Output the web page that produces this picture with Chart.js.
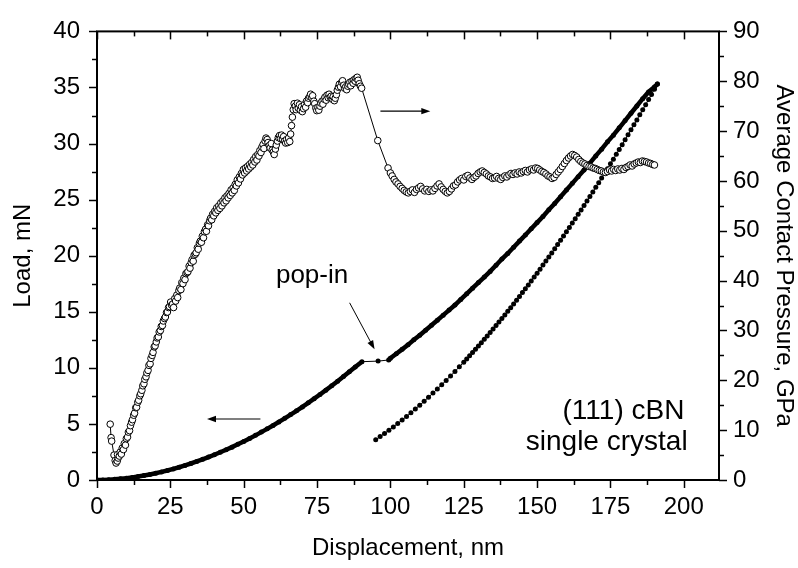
<!DOCTYPE html>
<html><head><meta charset="utf-8">
<script src="https://cdn.jsdelivr.net/npm/chart.js@4.4.1/dist/chart.umd.min.js"></script>
<style>html,body{margin:0;padding:0;background:#fff}</style>
</head><body>
<canvas id="c" width="798" height="568"></canvas>
<script>
// ---------- data ----------
const xTicks = [0,25,50,75,100,125,150,175,200];
const loadTicks = [0,5,10,15,20,25,30,35,40];
const pressureTicks = [0,10,20,30,40,50,60,70,80,90];

// loading branch [displacement nm, load mN] (incl. pop-in)
const loadingCurve = [[0,0],[2,0.01],[4,0.03],[6,0.06],[8,0.11],[10,0.16],[12,0.23],[14,0.31],[16,0.40],[18,0.49],[20,0.60],[22,0.72],[24,0.85],[26,0.99],[28,1.14],[30,1.30],[32,1.47],[34,1.65],[36,1.84],[38,2.04],[40,2.25],[42,2.47],[44,2.70],[46,2.93],[48,3.18],[50,3.44],[52,3.70],[54,3.98],[56,4.27],[58,4.56],[60,4.86],[62,5.18],[64,5.50],[66,5.83],[68,6.17],[70,6.52],[72,6.88],[74,7.25],[76,7.62],[78,8.01],[80,8.40],[82,8.81],[84,9.22],[86,9.65],[88,10.08],[90.3,10.55],
[95.8,10.6],[99.4,10.7],
[100,10.85],[102,11.25],[104,11.65],[106,12.05],[108,12.5],[110,12.9],[112,13.35],[114,13.8],[116,14.25],[118,14.7],[120,15.15],[122,15.6],[124,16.1],[126,16.6],[128,17.1],[130,17.6],[132,18.1],[134,18.6],[136,19.15],[138,19.7],[140,20.2],[142,20.75],[144,21.3],[146,21.85],[148,22.4],[150,22.95],[152,23.5],[154,24.1],[156,24.65],[158,25.25],[160,25.85],[162,26.45],[164,27.05],[166,27.65],[168,28.25],[170,28.9],[172,29.5],[174,30.15],[176,30.75],[178,31.4],[180,32.05],[182,32.7],[184,33.35],[186,34.0],[188,34.6],[190,35.05],[191,35.3]];

// unloading branch [displacement nm, load mN]
const unloadingCurve = [[95,3.60],[96.5,3.87],[98,4.15],[99.5,4.44],[101,4.73],[102.5,5.04],[104,5.35],[105.5,5.67],[107,5.99],[108.5,6.33],[110,6.67],[111.5,7.02],[113,7.38],[114.5,7.75],[116,8.12],[117.5,8.50],[119,8.88],[120.5,9.28],[122,9.68],[123.5,10.09],[125,10.51],[126,10.79],[127,11.07],[128,11.36],[129,11.65],[130,11.94],[131,12.24],[132,12.54],[133,12.84],[134,13.15],[135,13.46],[136,13.77],[137,14.08],[138,14.40],[139,14.72],[140,15.04],[141,15.37],[142,15.70],[143,16.03],[144,16.37],[145,16.71],[146,17.05],[147,17.39],[148,17.74],[149,18.09],[150,18.44],[151,18.80],[152,19.16],[153,19.52],[154,19.89],[155,20.25],[156,20.62],[157,21.00],[158,21.37],[159,21.75],[160,22.13],[161,22.52],[162,22.91],[163,23.29],[164,23.69],[165,24.08],[166,24.48],[167,24.88],[168,25.28],[169,25.69],[170,26.10],[171,26.51],[172,26.93],[173,27.34],[174,27.76],[175,28.19],[176,28.61],[177,29.04],[178,29.47],[179,29.90],[180,30.34],[181,30.78],[182,31.22],[183,31.67],[184,32.11],[185,32.56],[186,33.01],[187,33.47],[188,33.92],[189,34.38],[190,34.85],[191,35.31]];

// average contact pressure [displacement nm, GPa]
const pressureCurve = [[4.5,11.2],[4.8,8.5],[5.0,7.8],[5.8,5.0],[6.2,3.9],[6.5,3.4],[6.9,3.8],[7.2,4.4],[7.0,5.1],[7.6,4.8],[7.9,5.6],[8.3,5.2],[8.6,6.4],[9.0,6.1],[9.3,7.3],[9.7,7.0],[10.0,8.3],[10.4,8.6],[10.7,9.6],[11.1,9.9],[11.4,10.9],[11.8,11.6],[12.1,12.1],[12.5,13.0],[12.8,13.4],[13.2,14.5],[13.5,14.6],[13.9,15.6],[14.2,16.0],[14.6,16.9],[14.9,17.3],[15.3,18.0],[15.6,18.9],[16.0,19.3],[16.3,20.2],[16.7,20.7],[17.0,21.5],[17.4,22.0],[17.7,23.0],[18.1,23.3],[18.4,24.4],[18.8,25.0],[19.1,25.6],[19.5,26.7],[19.8,26.9],[20.2,27.7],[20.5,28.5],[20.9,28.7],[21.2,29.7],[21.6,30.0],[21.9,30.8],[22.3,31.0],[22.6,31.9],[23.0,32.4],[23.3,32.7],[23.7,33.6],[24.0,33.7],[24.4,34.6],[24.7,34.8],[25.1,35.7],[25.4,35.1],
[25.8,35.3],[26.1,34.6],[26.5,36.4],[26.8,35.9],[27.2,37.1],[27.5,36.6],[27.9,38.0],[28.2,38.5],[28.6,38.2],[28.9,39.6],[29.3,39.4],[29.6,40.5],[30.0,40.2],[30.3,41.4],[30.7,41.6],[31.0,41.8],[31.4,42.9],[31.7,42.5],[32.1,43.6],[32.4,44.2],[32.8,43.9],[33.1,45.1],[33.5,45.3],[33.8,45.6],[34.2,46.6],[34.5,46.3],[34.9,47.5],[35.2,47.9],[35.6,47.7],[35.9,48.9],[36.3,48.6],[36.6,49.8],[37.0,50.3],[37.3,49.9],[37.7,51.2],[38.0,51.0],[38.4,52.0],[38.7,52.5],[39.1,52.2],[39.4,53.3],[39.8,53.0],[40.1,53.9],
[40.5,53.6],[40.8,54.6],[41.2,54.1],[41.5,55.0],[41.9,54.5],[42.2,55.6],[42.6,55.0],[42.9,56.0],[43.3,55.6],[43.6,56.6],[44.0,56.0],[44.3,57.0],[44.7,56.6],[45.0,57.5],[45.4,57.1],[45.7,58.2],[46.1,57.6],[46.4,58.6],[46.8,58.1],[47.1,59.3],[47.5,59.0],[47.8,60.2],[48.2,59.6],[48.5,60.8],[48.9,60.4],[49.2,61.5],[49.6,61.2],[49.9,62.3],[50.3,61.6],[50.6,62.6],[51.0,62.0],[51.3,62.9],[51.7,62.4],[52.0,63.3],[52.4,62.8],[52.7,63.7],[53.1,63.2],[53.4,64.3],[53.8,63.8],[54.1,64.9],[54.5,64.2],[54.8,65.3],[55.2,65.0],[55.5,66.1],[55.9,65.7],[56.2,66.8],[56.6,67.3],[56.9,66.5],[57.3,68.0],[57.6,68.6],[58.0,68.3],[58.3,67.7],[58.7,67.1],
[59.0,66.6],[59.4,67.5],[59.7,66.2],[60.1,65.8],[60.4,65.3],[60.8,66.4],[61.1,67.2],[61.5,68.0],[61.8,68.7],[62.2,69.1],[62.5,68.5],[62.9,69.2],[63.2,68.4],[63.6,68.9],[63.9,68.0],[64.3,67.6],[64.6,68.3],[65.0,67.7],[65.3,68.6],[65.7,67.9],[66.0,69.4],[66.3,71.1],[66.6,72.8],[66.9,74.3],[67.2,75.5],[67.6,75.0],[67.9,74.3],[68.3,75.6],[68.6,74.6],[69.0,75.3],[69.3,74.2],[69.7,74.9],[70.0,73.9],[70.4,74.5],[70.7,75.3],[71.1,74.8],[71.4,76.0],[71.8,75.7],[72.1,76.6],[72.5,76.9],[72.8,77.4],[73.2,76.7],[73.5,77.1],[73.9,76.0],[74.2,75.5],[74.6,74.6],[74.9,74.1],[75.3,74.8],[75.6,74.2],[76.0,75.0],[76.3,75.6],[76.7,76.0],[77.0,75.4],[77.4,76.4],[77.7,76.8],[78.1,76.2],[78.4,77.2],[78.8,76.7],[79.1,77.4],[79.5,76.8],[79.8,77.0],[80.2,76.4],[80.5,76.9],[80.9,76.1],[81.2,76.6],[81.6,77.3],[81.9,78.2],[82.3,78.8],[82.6,79.4],[83.0,78.9],[83.4,79.8],[83.7,80.1],[84.1,79.2],[84.4,78.6],[84.8,78.9],[85.1,78.3],[85.5,79.0],[85.8,79.4],[86.2,79.8],[86.5,79.1],[86.9,80.0],[87.3,79.6],[87.6,80.3],[88.0,80.0],[88.3,80.6],[88.7,80.8],[89.0,80.2],[89.4,79.5],[89.8,79.0],[90.2,78.6],
[95.7,68.1],[99.2,62.6],
[100.0,61.6],[100.6,61.0],[101.3,60.3],[101.9,59.8],[102.6,59.4],[103.3,58.9],[104.0,58.5],[104.7,58.1],[105.4,57.8],[106.1,57.6],[106.8,57.9],[107.5,58.2],[108.2,57.7],[108.9,58.3],[109.6,58.6],[110.3,58.9],[111.0,58.4],[111.7,58.0],[112.4,58.3],[113.1,57.9],[113.8,58.2],[114.5,58.0],[115.2,58.5],[115.9,59.0],[116.6,59.4],[117.3,58.8],[118.0,58.3],[118.7,57.9],[119.4,57.6],[120.1,57.9],[120.8,58.4],[121.5,59.0],[122.2,59.2],[122.9,59.8],[123.6,60.2],[124.3,60.5],[125.0,60.2],[125.7,60.9],[126.4,61.1],[127.1,60.6],[127.8,60.3],[128.5,60.7],[129.2,61.0],[129.9,61.5],[130.6,61.8],[131.3,62.0],[132.0,61.7],[132.7,61.4],[133.4,61.0],[134.1,60.8],[134.8,60.5],[135.5,60.6],[136.2,60.9],[136.9,60.5],[137.6,60.3],[138.3,60.7],[139.0,61.0],[139.7,60.8],[140.4,61.2],[141.1,61.5],[141.8,61.3],[142.5,61.6],[143.2,61.4],[143.9,61.8],[144.6,61.6],[145.3,61.9],[146.0,62.1],[146.7,61.8],[147.4,62.2],[148.1,62.4],[148.8,62.2],[149.5,62.6],[150.2,62.5],[150.9,62.2],[151.6,61.9],[152.3,61.7],[153.0,61.4],[153.7,61.0],[154.4,60.8],[155.1,60.5],[155.8,60.7],[156.5,61.3],[157.2,61.8],[157.9,62.3],[158.6,62.9],[159.3,63.5],[160.0,64.1],[160.7,64.6],[161.4,65.0],[162.1,65.3],[162.8,65.1],[163.5,64.8],[164.2,64.3],[164.9,63.9],[165.6,63.6],[166.3,63.4],[167.0,63.1],[167.7,62.9],[168.4,62.8],[169.1,62.6],[169.8,62.5],[170.5,62.3],[171.2,62.1],[171.9,62.0],[172.6,61.8],[173.3,61.7],[174.0,61.9],[174.7,62.2],[175.4,62.0],[176.1,62.3],[176.8,62.1],[177.5,62.4],[178.2,62.2],[178.9,62.5],[179.6,62.3],[180.3,62.7],[181.0,62.9],[181.7,63.2],[182.4,63.0],[183.1,63.4],[183.8,63.6],[184.5,63.8],[185.2,63.7],[185.9,64.0],[186.6,63.9],[187.3,63.8],[188.0,63.6],[188.7,63.5],[189.4,63.3],[190.0,63.2]];

// ---------- annotation layout (data coordinates) ----------
const ann = {
  pressureArrow: {x0:96.6, x1:113.6, gpa:74},
  loadArrow: {x0:55.7, x1:37.5, load:5.44},
  popArrow: {x0:86.1, y0:15.8, x1:94.6, y1:11.65},
  popText: {x:73.3, load:17.6, text:'pop-in'},
  sample1: {x:200.2, load:5.4, text:'(111) cBN'},
  sample2: {x:201.3, load:2.7, text:'single crystal'}
};

const FONT = '"Liberation Sans", Arial, Helvetica, sans-serif';
Chart.defaults.font.family = FONT;
Chart.defaults.color = '#000';

function arrow(ctx, x0, y0, x1, y1) {
  const a = Math.atan2(y1 - y0, x1 - x0), L = 9, W = 3.2;
  ctx.beginPath(); ctx.moveTo(x0, y0);
  ctx.lineTo(x1 - Math.cos(a) * L * 0.8, y1 - Math.sin(a) * L * 0.8); ctx.stroke();
  ctx.beginPath(); ctx.moveTo(x1, y1);
  ctx.lineTo(x1 - Math.cos(a) * L + Math.sin(a) * W, y1 - Math.sin(a) * L - Math.cos(a) * W);
  ctx.lineTo(x1 - Math.cos(a) * L - Math.sin(a) * W, y1 - Math.sin(a) * L + Math.cos(a) * W);
  ctx.closePath(); ctx.fill();
}

const framePlugin = {
  id: 'frame',
  afterDraw(chart) {
    const {ctx, chartArea: a, scales} = chart;
    ctx.save();
    ctx.strokeStyle = '#000'; ctx.fillStyle = '#000';
    const ln = (x0, y0, x1, y1) => { ctx.beginPath(); ctx.moveTo(x0, y0); ctx.lineTo(x1, y1); ctx.stroke(); };
    const withMinor = arr => { const out = []; arr.forEach((v, i) => { out.push([v, true]); if (i < arr.length - 1) out.push([(v + arr[i + 1]) / 2, false]); }); return out; };
    ctx.lineWidth = 1.5;
    const xs = withMinor(xTicks); xs.push([xTicks[xTicks.length - 1] + (xTicks[1] - xTicks[0]) / 2, false]);
    xs.forEach(([v, major]) => {
      if (v > scales.x.max) return;
      const p = Math.round(scales.x.getPixelForValue(v)) + 0.5, len = major ? 8 : 5;
      ln(p, a.bottom, p, a.bottom + len);
      ln(p, a.top, p, a.top + len);
    });
    withMinor(loadTicks).forEach(([v, major]) => {
      const p = Math.round(scales.y.getPixelForValue(v)) + 0.5, len = major ? 8 : 5;
      ln(a.left, p, a.left - len, p);
    });
    withMinor(pressureTicks).forEach(([v, major]) => {
      const p = Math.round(scales.y1.getPixelForValue(v)) + 0.5, len = major ? 8 : 5;
      ln(a.right, p, a.right + len, p);
    });
    ctx.lineWidth = 2;
    ctx.strokeRect(a.left, a.top, a.right - a.left, a.bottom - a.top);

    // annotations
    const X = v => scales.x.getPixelForValue(v), Y = v => scales.y.getPixelForValue(v), Y1 = v => scales.y1.getPixelForValue(v);
    ctx.lineWidth = 1.2;
    arrow(ctx, X(ann.pressureArrow.x0), Y1(ann.pressureArrow.gpa), X(ann.pressureArrow.x1), Y1(ann.pressureArrow.gpa));
    arrow(ctx, X(ann.loadArrow.x0), Y(ann.loadArrow.load), X(ann.loadArrow.x1), Y(ann.loadArrow.load));
    ctx.lineWidth = 1;
    arrow(ctx, X(ann.popArrow.x0), Y(ann.popArrow.y0), X(ann.popArrow.x1), Y(ann.popArrow.y1));
    ctx.textBaseline = 'alphabetic';
    ctx.font = '26px ' + FONT;
    ctx.textAlign = 'center';
    ctx.fillText(ann.popText.text, X(ann.popText.x), Y(ann.popText.load));
    ctx.font = '28px ' + FONT;
    ctx.textAlign = 'right';
    ctx.fillText(ann.sample1.text, X(ann.sample1.x), Y(ann.sample1.load));
    ctx.fillText(ann.sample2.text, X(ann.sample2.x), Y(ann.sample2.load));
    ctx.restore();
  }
};

const toXY = arr => arr.map(([x, y]) => ({x, y}));

new Chart(document.getElementById('c'), {
  type: 'scatter',
  data: {
    datasets: [
      { label: 'Average Contact Pressure', data: toXY(pressureCurve), yAxisID: 'y1', showLine: true,
        borderColor: '#000', borderWidth: 1, pointRadius: 3.3, pointBackgroundColor: '#fff',
        pointBorderColor: '#000', pointBorderWidth: 1, order: 0 },
      { label: 'Loading', data: toXY(loadingCurve), yAxisID: 'y', showLine: true,
        borderColor: '#000', borderWidth: 4, pointRadius: 2.5, pointBackgroundColor: '#000',
        pointBorderColor: '#000', pointBorderWidth: 0, order: 1,
        segment: { borderWidth: c => (c.p1.parsed.x - c.p0.parsed.x > 3 ? 1 : 4.5) } },
      { label: 'Unloading', data: toXY(unloadingCurve), yAxisID: 'y', showLine: true,
        borderColor: '#000', borderWidth: 1, pointRadius: 2.5, pointBackgroundColor: '#000',
        pointBorderColor: '#000', pointBorderWidth: 0, order: 1 }
    ]
  },
  options: {
    responsive: false, animation: false, devicePixelRatio: 1,
    layout: { padding: { top: 19, left: 0, right: 0, bottom: 0 } },
    plugins: { legend: { display: false }, tooltip: { enabled: false } },
    elements: { line: { tension: 0 } },
    scales: {
      x: { type: 'linear', position: 'bottom', min: 0, max: 212,
        afterFit: s => { s.height = 88; },
        afterBuildTicks: s => { s.ticks = xTicks.map(v => ({value: v})); },
        grid: { display: false, drawTicks: false }, border: { display: false },
        ticks: { autoSkip: false, maxRotation: 0, padding: 13, font: { size: 24 }, color: '#000' },
        title: { display: true, text: 'Displacement, nm', font: { size: 24 }, color: '#000', padding: { top: 0, bottom: 5 } } },
      y: { type: 'linear', position: 'left', min: 0, max: 40,
        afterFit: s => { s.width = 97; },
        afterBuildTicks: s => { s.ticks = loadTicks.map(v => ({value: v})); },
        grid: { display: false, drawTicks: false }, border: { display: false },
        ticks: { autoSkip: false, padding: 17, font: { size: 24 }, color: '#000' },
        title: { display: true, text: 'Load, mN', font: { size: 24 }, color: '#000', padding: { top: 9, bottom: 0 } } },
      y1: { type: 'linear', position: 'right', min: 0, max: 90,
        afterFit: s => { s.width = 79; },
        afterBuildTicks: s => { s.ticks = pressureTicks.map(v => ({value: v})); },
        grid: { display: false, drawTicks: false }, border: { display: false },
        ticks: { autoSkip: false, padding: 14, font: { size: 24 }, color: '#000' },
        title: { display: true, text: 'Average Contact Pressure, GPa', font: { size: 24 }, color: '#000', padding: { top: 0, bottom: 0 } } }
    }
  },
  plugins: [framePlugin]
});
</script>
</body></html>
